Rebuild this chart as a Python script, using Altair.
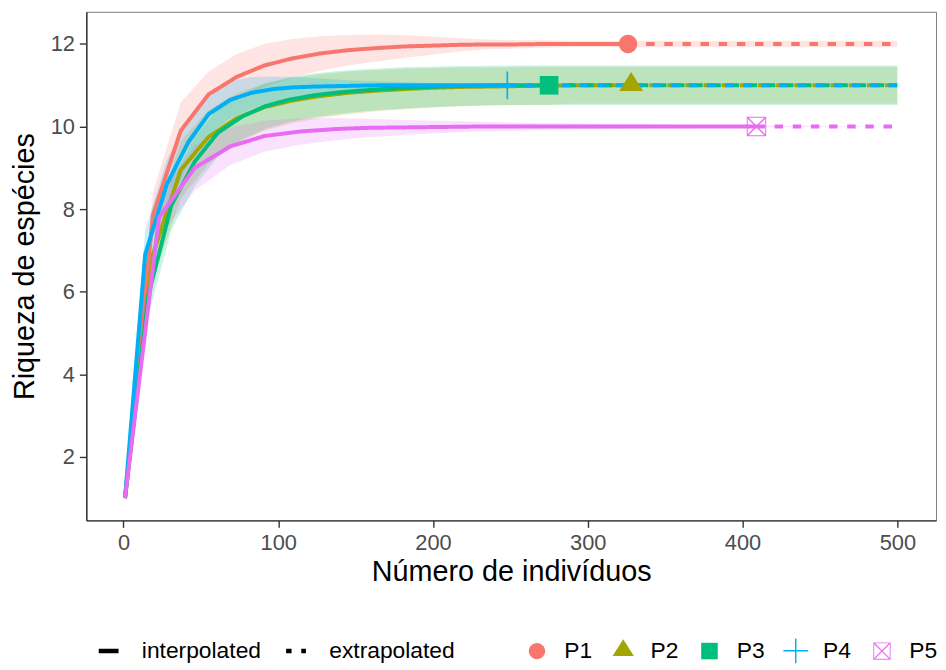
import altair as alt
import pandas as pd

# ---------------- data ----------------
sites = ["P1", "P2", "P3", "P4", "P5"]
colors = ["#F8766D", "#A3A500", "#00BF7D", "#00B0F6", "#E76BF3"]
obs_n = [326, 328, 275, 248, 409]
obs_s = [12, 11, 11, 11, 10]
endpoint = 500

# interpolated (rarefaction) curves: sample size, richness, CI half-width
m1 = [1, 19, 37, 55, 73, 91, 109, 127, 145, 163, 181, 199, 217, 235, 253, 271, 289, 307, 325, 326]
s1 = [1, 7.85, 9.9, 10.78, 11.2, 11.48, 11.65, 11.77, 11.85, 11.9, 11.94, 11.96, 11.98, 11.99, 11.99, 12, 12, 12, 12, 12]
h1 = [0, 0.55, 0.68, 0.55, 0.55, 0.52, 0.47, 0.42, 0.37, 0.33, 0.28, 0.22, 0.16, 0.12, 0.1, 0.09, 0.08, 0.08, 0.08, 0.08]

m2 = [1, 19, 37, 55, 73, 91, 109, 127, 146, 164, 182, 200, 219, 237, 255, 273, 291, 309, 327, 328]
s2 = [1, 6.9, 8.95, 9.75, 10.2, 10.47, 10.63, 10.74, 10.82, 10.87, 10.91, 10.94, 10.96, 10.97, 10.98, 10.99, 11, 11, 11, 11]
h2 = [0, 0.6, 0.7, 0.65, 0.6, 0.57, 0.55, 0.53, 0.52, 0.5, 0.49, 0.48, 0.47, 0.46, 0.46, 0.46, 0.45, 0.45, 0.45, 0.45]

m3 = [1, 16, 31, 46, 61, 77, 92, 107, 122, 137, 153, 168, 183, 198, 214, 229, 244, 259, 274, 275]
s3 = [1, 5.9, 8.1, 9.15, 9.85, 10.25, 10.5, 10.65, 10.75, 10.82, 10.87, 10.91, 10.94, 10.96, 10.98, 10.99, 11, 11, 11, 11]
h3 = [0, 0.5, 0.6, 0.6, 0.58, 0.56, 0.55, 0.54, 0.53, 0.52, 0.51, 0.5, 0.5, 0.49, 0.49, 0.48, 0.48, 0.48, 0.48, 0.48]

m4 = [1, 14, 28, 42, 55, 69, 83, 97, 110, 124, 138, 151, 165, 179, 193, 206, 220, 234, 247, 248]
s4 = [1, 6.9, 8.6, 9.63, 10.3, 10.65, 10.82, 10.91, 10.95, 10.97, 10.98, 10.99, 11, 11, 11, 11, 11, 11, 11, 11]
h4 = [0, 0.6, 0.6, 0.55, 0.5, 0.45, 0.38, 0.3, 0.25, 0.2, 0.16, 0.12, 0.1, 0.08, 0.06, 0.05, 0.04, 0.03, 0.03, 0.03]

m5 = [1, 23, 46, 69, 91, 114, 137, 159, 182, 205, 227, 250, 273, 295, 318, 341, 363, 386, 408, 409]
s5 = [1, 7.8, 9.0, 9.52, 9.77, 9.88, 9.94, 9.97, 9.98, 9.99, 10, 10, 10, 10, 10, 10, 10, 10, 10, 10]
h5 = [0, 0.5, 0.55, 0.45, 0.38, 0.32, 0.27, 0.22, 0.18, 0.15, 0.12, 0.1, 0.08, 0.07, 0.06, 0.05, 0.04, 0.03, 0.02, 0.02]

# extrapolated richness at the endpoint and its CI half-width
ext_s = [12, 11, 11, 11, 10]
ext_h = [0.08, 0.45, 0.48, 0.03, 0.0]

interp = {"P1": (m1, s1, h1), "P2": (m2, s2, h2), "P3": (m3, s3, h3),
          "P4": (m4, s4, h4), "P5": (m5, s5, h5)}

# ---------------- tables ----------------
band_rows, line_rows, point_rows = [], [], []
for i, site in enumerate(sites):
    m, s, h = interp[site]
    for mm, ss, hh in zip(m, s, h):
        band_rows.append({"site": site, "m": mm, "lo": ss - hh, "hi": ss + hh})
        line_rows.append({"site": site, "m": mm, "qD": ss, "type": "interpolated"})
    band_rows.append({"site": site, "m": endpoint, "lo": ext_s[i] - ext_h[i], "hi": ext_s[i] + ext_h[i]})
    line_rows.append({"site": site, "m": obs_n[i], "qD": obs_s[i], "type": "extrapolated"})
    line_rows.append({"site": site, "m": endpoint, "qD": ext_s[i], "type": "extrapolated"})
    point_rows.append({"site": site, "m": obs_n[i], "qD": obs_s[i]})

band_df = pd.DataFrame(band_rows)
line_df = pd.DataFrame(line_rows)
point_df = pd.DataFrame(point_rows)

# ---------------- scales ----------------
xscale = alt.Scale(domain=[-24, 525], nice=False, zero=False)
yscale = alt.Scale(domain=[0.46, 12.78], nice=False, zero=False)
color_scale = alt.Scale(domain=sites, range=colors)

plus_path = "M-0.06,-1H0.06V-0.06H1V0.06H0.06V1H-0.06V0.06H-1V-0.06H-0.06Z"
sqx_path = ("M-0.7,-0.7H0.7V0.7H-0.7Z"
            "M-0.63,-0.63V0.63H0.63V-0.63Z"
            "M-0.63,-0.56L0.56,0.63L0.63,0.63L0.63,0.56L-0.56,-0.63L-0.63,-0.63Z"
            "M0.63,-0.63L0.56,-0.63L-0.63,0.56L-0.63,0.63L-0.56,0.63L0.63,-0.56Z")
circ_path = "M-0.66,0A0.66,0.66,0,1,0,0.66,0A0.66,0.66,0,1,0,-0.66,0Z"
tri_path = "M0,-0.95L0.86,0.41L-0.86,0.41Z"
sq_path = "M-0.67,-0.67H0.67V0.67H-0.67Z"
shape_scale = alt.Scale(domain=sites, range=[circ_path, tri_path, sq_path, plus_path, sqx_path])

xaxis = alt.Axis(values=[0, 100, 200, 300, 400, 500], title="Número de indivíduos")
yaxis = alt.Axis(values=[2, 4, 6, 8, 10, 12], title="Riqueza de espécies")

site_legend = alt.Legend(title=None, orient="none", legendX=442, legendY=632,
                         direction="horizontal", symbolSize=620,
                         labelFontSize=23, labelOffset=15,
                         columnPadding=18, symbolOpacity=1, symbolStrokeWidth=0)

band = alt.Chart(band_df).mark_area(opacity=0.2).encode(
    x=alt.X("m:Q", scale=xscale, axis=xaxis),
    y=alt.Y("lo:Q", scale=yscale, axis=yaxis),
    y2="hi:Q",
    color=alt.Color("site:N", scale=color_scale, legend=site_legend),
)

lines = alt.Chart(line_df).mark_line(strokeWidth=4).encode(
    x=alt.X("m:Q", scale=xscale, axis=xaxis),
    y=alt.Y("qD:Q", scale=yscale, axis=yaxis),
    color=alt.Color("site:N", scale=color_scale, legend=site_legend),
    strokeDash=alt.StrokeDash(
        "type:N",
        scale=alt.Scale(domain=["interpolated", "extrapolated"], range=[[1, 0], [8.5, 9.8]]),
        legend=alt.Legend(
            title=None, orient="none", legendX=10, legendY=632,
            direction="horizontal", symbolType="stroke",
            symbolStrokeColor="black", symbolStrokeWidth=4.5,
            symbolSize=400, symbolDashOffset=3,
            labelFontSize=23, labelOffset=21, columnPadding=15,
        ),
    ),
)

points = alt.Chart(point_df).mark_point(filled=True, opacity=1, size=784, strokeWidth=0).encode(
    x=alt.X("m:Q", scale=xscale, axis=xaxis),
    y=alt.Y("qD:Q", scale=yscale, axis=yaxis),
    color=alt.Color("site:N", scale=color_scale, legend=site_legend),
    shape=alt.Shape("site:N", scale=shape_scale, legend=site_legend),
)

chart = alt.layer(band, lines, points).properties(
    width=857, height=513,
    padding={"left": 2, "top": 1, "right": 0, "bottom": 0},
).configure_view(
    stroke="#7f7f7f", strokeWidth=1
).configure_axis(
    grid=False,
    labelFont="Liberation Sans", titleFont="Liberation Sans",
    labelFontSize=22, titleFontSize=29, titleFontWeight="normal",
    labelColor="#4d4d4d", titleColor="black",
    domainColor="#333333", domainWidth=1.4,
    tickColor="#333333", tickWidth=1.4, tickSize=7,
    labelPadding=5,
).configure_axisX(
    titlePadding=5
).configure_axisY(
    titlePadding=11
).configure_legend(
    labelFont="Liberation Sans", labelColor="black"
)

chart.save("out.html", embed_options={"renderer": "svg", "actions": False})
